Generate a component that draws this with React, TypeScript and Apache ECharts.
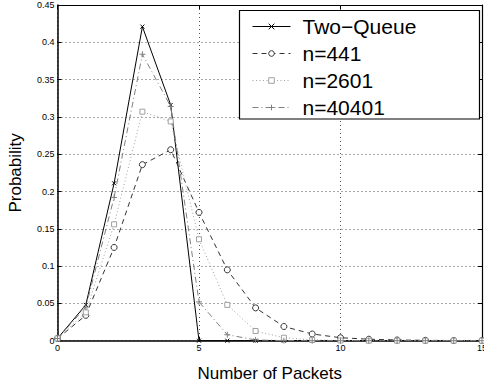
import React, { useEffect, useRef } from "react";
import * as echarts from "echarts";

const packets = [0, 1, 2, 3, 4, 5, 6, 7, 8, 9, 10, 11, 12, 13, 14, 15];
const twoQueue = [0.003, 0.048, 0.211, 0.421, 0.316, 0, 0, 0, 0, 0, 0, 0, 0, 0, 0, 0];
const n441 = [0.003, 0.034, 0.125, 0.236, 0.256, 0.172, 0.095, 0.044, 0.019, 0.009, 0.004, 0.002, 0.001, 0.0005, 0.0002, 0.0001];
const n2601 = [0.003, 0.038, 0.156, 0.307, 0.294, 0.136, 0.048, 0.013, 0.004, 0.001, 0.0003, 0, 0, 0, 0, 0];
const n40401 = [0.003, 0.045, 0.192, 0.384, 0.314, 0.052, 0.008, 0.001, 0.0001, 0, 0, 0, 0, 0, 0, 0];
const seriesNames = ["Two\u2212Queue", "n=441", "n=2601", "n=40401"];
const xTicks = { min: 0, max: 15, interval: 5 };
const yTicks = { min: 0, max: 0.45, interval: 0.05 };

const FONT = "'Liberation Sans', Arial, Helvetica, sans-serif";
const X_PATH = "path://M0,0L10,10M10,0L0,10";
const PLUS_PATH = "path://M5,0L5,10M0,5L10,5";

export default function App() {
  const ref = useRef<HTMLDivElement>(null);
  useEffect(() => {
    if (!ref.current) return;
    const chart = echarts.init(ref.current, null, { renderer: "svg" });
    const pair = (arr: number[]) => packets.map((x, i) => [x, arr[i]]);
    const mk = (
      name: string,
      arr: number[],
      color: string,
      dash: any,
      symbol: string,
      size: number
    ) => ({
      name,
      type: "line",
      data: pair(arr),
      symbol,
      symbolSize: size,
      symbolKeepAspect: true,
      showSymbol: true,
      lineStyle: { color, width: 1, type: dash },
      itemStyle: { color: "#ffffff", borderColor: color, borderWidth: 1 },
      emphasis: { disabled: true },
      z: 3,
    });
    const commonX = {
      type: "value",
      min: xTicks.min,
      max: xTicks.max,
      interval: xTicks.interval,
    };
    const commonY = {
      type: "value",
      min: yTicks.min,
      max: yTicks.max,
      interval: yTicks.interval,
    };
    chart.setOption({
      animation: false,
      backgroundColor: "#ffffff",
      textStyle: { fontFamily: FONT },
      grid: {
        left: 57.5,
        top: 5,
        right: 2,
        bottom: 43.3,
        containLabel: false,
        outerBoundsMode: "none",
      },
      xAxis: [
        {
          ...commonX,
          position: "bottom",
          name: "Number of Packets",
          nameLocation: "middle",
          nameGap: 24,
          nameTextStyle: { fontSize: 17, color: "#000", fontFamily: FONT },
          axisLine: { show: true, onZero: false, lineStyle: { color: "#000", width: 1.5 } },
          axisTick: { show: true, inside: true, length: 4, lineStyle: { color: "#000" } },
          axisLabel: { fontSize: 9, color: "#000", margin: 3, fontFamily: FONT },
          splitLine: { show: true, lineStyle: { color: "#555", width: 1, type: [1, 3] } },
        },
        {
          ...commonX,
          position: "top",
          axisLine: { show: true, onZero: false, lineStyle: { color: "#000", width: 1.2 } },
          axisTick: { show: true, inside: true, length: 4, lineStyle: { color: "#000" } },
          axisLabel: { show: false },
          splitLine: { show: false },
        },
      ],
      yAxis: [
        {
          ...commonY,
          position: "left",
          name: "Probability",
          nameLocation: "middle",
          nameGap: 34,
          nameTextStyle: { fontSize: 17, color: "#000", fontFamily: FONT },
          axisLine: { show: true, onZero: false, lineStyle: { color: "#000", width: 1.5 } },
          axisTick: { show: true, inside: true, length: 4, lineStyle: { color: "#000" } },
          axisLabel: { fontSize: 9, color: "#000", margin: 3, fontFamily: FONT },
          splitLine: { show: true, lineStyle: { color: "#555", width: 1, type: [1, 3] } },
        },
        {
          ...commonY,
          position: "right",
          axisLine: { show: true, onZero: false, lineStyle: { color: "#000", width: 1.2 } },
          axisTick: { show: true, inside: true, length: 4, lineStyle: { color: "#000" } },
          axisLabel: { show: false },
          splitLine: { show: false },
        },
      ],
      legend: {
        orient: "vertical",
        left: 252,
        top: 16,
        padding: 0,
        itemWidth: 38,
        itemHeight: 7,
        itemGap: 6,
        selectedMode: false,
        z: 8,
        data: seriesNames,
        itemStyle: { borderWidth: 1 },
        lineStyle: { width: 1 },
        textStyle: {
          fontSize: 21,
          lineHeight: 20,
          color: "#000",
          fontFamily: FONT,
          padding: [0, 0, 0, 7],
        },
      },
      graphic: [
        {
          type: "rect",
          shape: { x: 239.5, y: 10.5, width: 240, height: 108.5 },
          style: { fill: "#ffffff", stroke: "#000", lineWidth: 1.2 },
          z: 6,
        },
      ],
      series: [
        mk(seriesNames[0], twoQueue, "#000000", "solid", X_PATH, 4),
        mk(seriesNames[1], n441, "#333333", [5, 4], "circle", 6),
        mk(seriesNames[2], n2601, "#a0a0a0", [1, 2.5], "rect", 5),
        mk(seriesNames[3], n40401, "#808080", [6, 3, 1, 3], PLUS_PATH, 6),
      ],
    });
    return () => chart.dispose();
  }, []);
  return <div ref={ref} style={{ width: 484, height: 384, position: "absolute", left: 0, top: 0 }} />;
}
